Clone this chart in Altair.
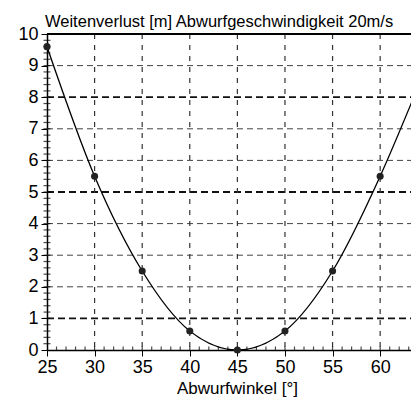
import altair as alt
import pandas as pd

# Data
angles = [25, 30, 35, 40, 45, 50, 55, 60]
losses = [9.6, 5.5, 2.5, 0.6, 0.0, 0.6, 2.5, 5.5]
curve_x = [25, 30, 35, 40, 45, 50, 55, 60, 63.6]
curve_y = [9.6, 5.5, 2.5, 0.6, 0.0, 0.6, 2.5, 5.5, 8.05]
hgrid = [1, 2, 3, 4, 5, 6, 7, 8, 9]
hgrid_bold = [1, 0, 0, 0, 1, 0, 0, 1, 0]
vgrid = [30, 35, 40, 45, 50, 55, 60]
x_ticks = [25, 30, 35, 40, 45, 50, 55, 60]
y_ticks = [0, 1, 2, 3, 4, 5, 6, 7, 8, 9, 10]
x_minor = list(range(26, 64))
y_minor = [i / 5 for i in range(1, 50)]

title_text = "Weitenverlust [m]  Abwurfgeschwindigkeit 20m/s"
x_title = "Abwurfwinkel [°]"

FONT = "Liberation Sans"
W, H = 364, 316
xs = alt.Scale(domain=[25, 63.24], nice=False, zero=False)
ys = alt.Scale(domain=[0, 10], nice=False, zero=False)

pts = pd.DataFrame({"x": angles, "y": losses})
crv = pd.DataFrame({"x": curve_x, "y": curve_y})
hg = pd.DataFrame({"y": hgrid, "b": hgrid_bold})
vg = pd.DataFrame({"x": vgrid})
xm = pd.DataFrame({"x": x_minor})
ym = pd.DataFrame({"y": y_minor})

x_axis = alt.Axis(values=x_ticks, labelFont=FONT, labelFontSize=18, labelColor="black",
                  labelOverlap=False, labelFlush=False,
                  domainColor="black", domainWidth=1.5, tickColor="black", tickSize=6,
                  labelPadding=2, grid=False, title=x_title, titleFont=FONT,
                  titleFontSize=17, titleFontWeight="normal", titleColor="black",
                  titleX=190, titleY=38, titleBaseline="middle")
y_axis = alt.Axis(values=y_ticks, labelFont=FONT, labelFontSize=18, labelColor="black",
                  labelOverlap=False, labelFlush=False,
                  domainColor="black", domainWidth=1.5, tickColor="black", tickSize=6,
                  labelPadding=3, grid=False, title=None)

X = lambda: alt.X("x:Q", scale=xs, axis=x_axis)
Y = lambda: alt.Y("y:Q", scale=ys, axis=y_axis)

hgrid_thin = alt.Chart(hg).transform_filter("datum.b == 0").mark_rule(
    color="#444", strokeWidth=1, strokeDash=[6, 4]).encode(
    y=Y(), x=alt.value(0), x2=alt.value(W))
hgrid_thick = alt.Chart(hg).transform_filter("datum.b == 1").mark_rule(
    color="#111", strokeWidth=1.8, strokeDash=[7, 4]).encode(
    y=Y(), x=alt.value(0), x2=alt.value(W))
vgrid_l = alt.Chart(vg).mark_rule(color="#333", strokeWidth=1.2, strokeDash=[5, 6]).encode(
    x=X(), y=alt.value(0), y2=alt.value(H))

xminor_l = alt.Chart(xm).mark_tick(color="black", orient="vertical", size=7, thickness=1.2,
                                   clip=True).encode(x=X(), y=alt.value(H))
yminor_l = alt.Chart(ym).mark_tick(color="black", orient="horizontal", size=7, thickness=1.2).encode(
    y=Y(), x=alt.value(0))

top_border = alt.Chart(pd.DataFrame({"y": [10]})).mark_rule(color="black", strokeWidth=2).encode(
    y=Y(), x=alt.value(0), x2=alt.value(W))

line = alt.Chart(crv).mark_line(color="black", strokeWidth=1.3, interpolate="monotone",
                                clip=True).encode(x=X(), y=Y())
dots = alt.Chart(pts).mark_circle(color="#222", size=50, opacity=1).encode(
    x=X(), y=Y())

title_l = alt.Chart(pd.DataFrame({"t": [title_text]})).mark_text(
    font=FONT, fontSize=16.5, align="left", baseline="alphabetic", color="black").encode(
    text="t:N", x=alt.value(-2), y=alt.value(-7))

chart = alt.layer(
    hgrid_thin, hgrid_thick, vgrid_l, xminor_l, yminor_l, top_border, line, dots, title_l
).properties(
    width=W, height=H,
    autosize=alt.AutoSizeParams(type="none"),
    padding={"left": 39, "top": 26, "right": 0, "bottom": 49},
).configure_view(stroke=None).configure_axis(domain=True)

chart.save("out.html", embed_options={"renderer": "svg", "actions": False})
